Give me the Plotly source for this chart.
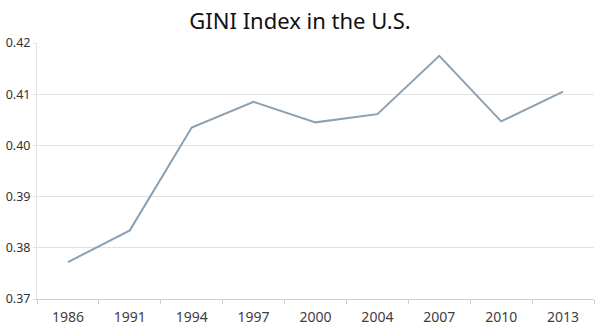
import plotly.graph_objects as go

years = ["1986", "1991", "1994", "1997", "2000", "2004", "2007", "2010", "2013"]
gini = [0.3772, 0.3834, 0.4035, 0.4085, 0.4045, 0.4061, 0.4175, 0.4047, 0.4105]
y_ticks = [0.37, 0.38, 0.39, 0.40, 0.41, 0.42]
y_tick_text = ["0.37", "0.38", "0.39", "0.40", "0.41", "0.42"]

fig = go.Figure()
fig.add_trace(go.Scatter(
    x=years, y=gini, mode="lines",
    line=dict(color="#8CA0B2", width=2),
    hoverinfo="x+y",
))

fig.update_layout(
    width=600, height=332,
    margin=dict(l=36, r=6, t=43, b=31),
    paper_bgcolor="white", plot_bgcolor="white",
    showlegend=False,
    title=dict(text="GINI Index in the U.S.", x=0.5, xanchor="center",
               y=0.935, yanchor="middle",
               font=dict(family="Noto Sans, Open Sans, sans-serif", size=22, color="#111111")),
    font=dict(family="Noto Sans, Open Sans, sans-serif", color="#333333"),
)

fig.update_xaxes(
    type="category", range=[-0.5, 8.5],
    showline=True, linecolor="#CFCFCF", linewidth=1,
    ticks="outside", ticklen=4, tickcolor="#CFCFCF", tickson="boundaries",
    ticklabelstandoff=5,
    showgrid=False, tickfont=dict(size=14, color="#404040"),
)
fig.update_yaxes(
    range=[0.37, 0.42], tickvals=y_ticks, ticktext=y_tick_text,
    showgrid=True, gridcolor="#E2E2E2", gridwidth=1,
    showline=True, linecolor="#E2E2E2", linewidth=1,
    ticks="outside", ticklen=3, tickcolor="#E2E2E2",
    zeroline=False, tickfont=dict(size=12.5, color="#333333"),
)

fig.write_html("out.html")
